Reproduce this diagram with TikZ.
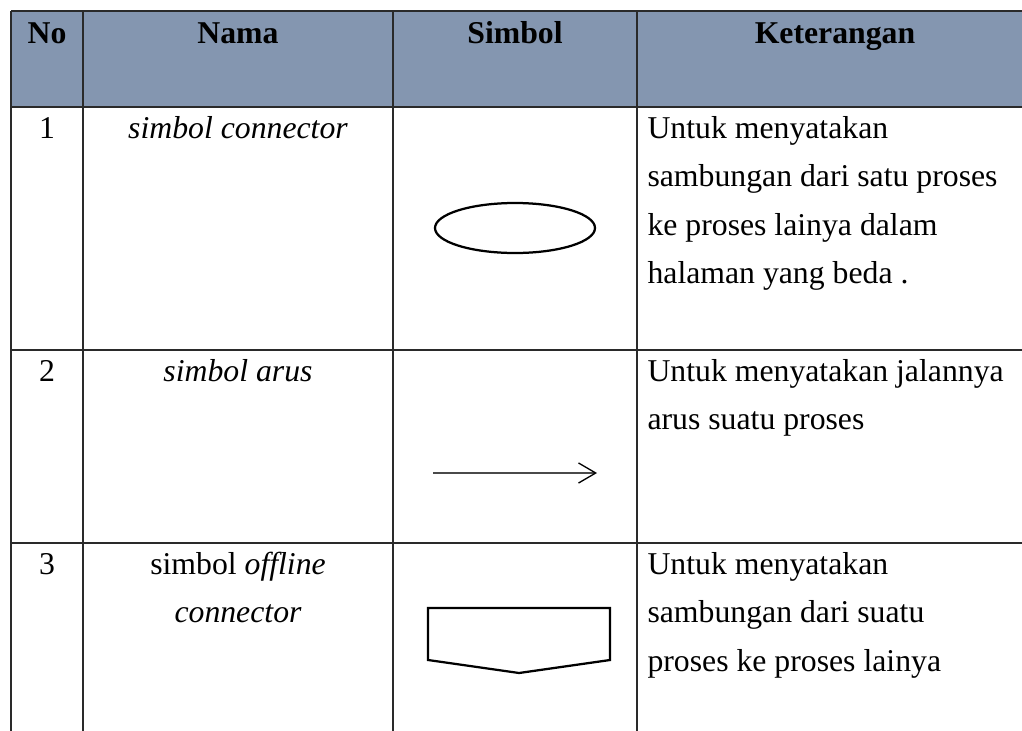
\documentclass[tikz,border=0pt]{standalone}
\usepackage{fontspec}
\setmainfont{Liberation Serif}
\usetikzlibrary{arrows.meta}
\definecolor{hdr}{HTML}{8496B0}
\definecolor{gridc}{HTML}{2A2A2A}
\definecolor{shaft}{HTML}{4A4A4A}
\begin{document}
\begin{tikzpicture}[x=0.378pt,y=-0.378pt,
  txt/.style={inner sep=0pt,anchor=base,font=\fontsize{12}{14}\selectfont},
  ket/.style={txt,anchor=base west},
  hd/.style={txt,font=\fontsize{12}{14}\selectfont\bfseries},
  gridline/.style={draw=gridc,line width=0.55pt},
  sym/.style={draw=black,line width=0.85pt}]
\useasboundingbox (0,0) rectangle (1022,731);
% header fill
\fill[hdr] (11,11) rectangle (1040,107);
% grid
\draw[gridline] (11,11) -- (1040,11);
\draw[gridline] (11,107) -- (1040,107);
\draw[gridline] (11,350) -- (1040,350);
\draw[gridline] (11,543) -- (1040,543);
\draw[gridline] (11,11) -- (11,740);
\draw[gridline] (83,11) -- (83,740);
\draw[gridline] (393,11) -- (393,740);
\draw[gridline] (637,11) -- (637,740);
% header
\node[hd] (hNo) at (47,43) {No};
\node[hd] (hNama) at (238,43) {Nama};
\node[hd] (hSimbol) at (515,43) {Simbol};
\node[hd] (hKet) at (835,43) {Keterangan};
% row 1
\node[txt] (n1) at (47,138) {1};
\node[txt] (nama1) at (238,138) {\itshape simbol connector};
\node[ket] (k1a) at (647,138) {Untuk menyatakan};
\node[ket] (k1b) at (647,186.5) {sambungan dari satu proses};
\node[ket] (k1c) at (647,235) {ke proses lainya dalam};
\node[ket] (k1d) at (647,283.5) {halaman yang beda .};
\draw[sym] (515,228) ellipse [x radius=80, y radius=25];
% row 2
\node[txt] (n2) at (47,381) {2};
\node[txt] (nama2) at (238,381) {\itshape simbol arus};
\node[ket] (k2a) at (647,381) {Untuk menyatakan jalannya};
\node[ket] (k2b) at (647,429.5) {arus suatu proses};
\coordinate (arS) at (433,473);
\coordinate (arE) at (597,473);
\draw[draw=shaft,line width=0.5pt,-{Straight Barb[length=6.5pt,width=7.6pt,line width=0.5pt,black]}] (arS) -- (arE);
% row 3
\node[txt] (n3) at (47,574) {3};
\node[txt] (nama3a) at (238,574) {simbol \itshape offline};
\node[txt] (nama3b) at (238,622.5) {\itshape connector};
\node[ket] (k3a) at (647,574) {Untuk menyatakan};
\node[ket] (k3b) at (647,622.5) {sambungan dari suatu};
\node[ket] (k3c) at (647,671) {proses ke proses lainya};
\draw[sym,line join=miter] (428,608) -- (610,608) -- (610,660) -- (519,673) -- (428,660) -- cycle;
\end{tikzpicture}
\end{document}
